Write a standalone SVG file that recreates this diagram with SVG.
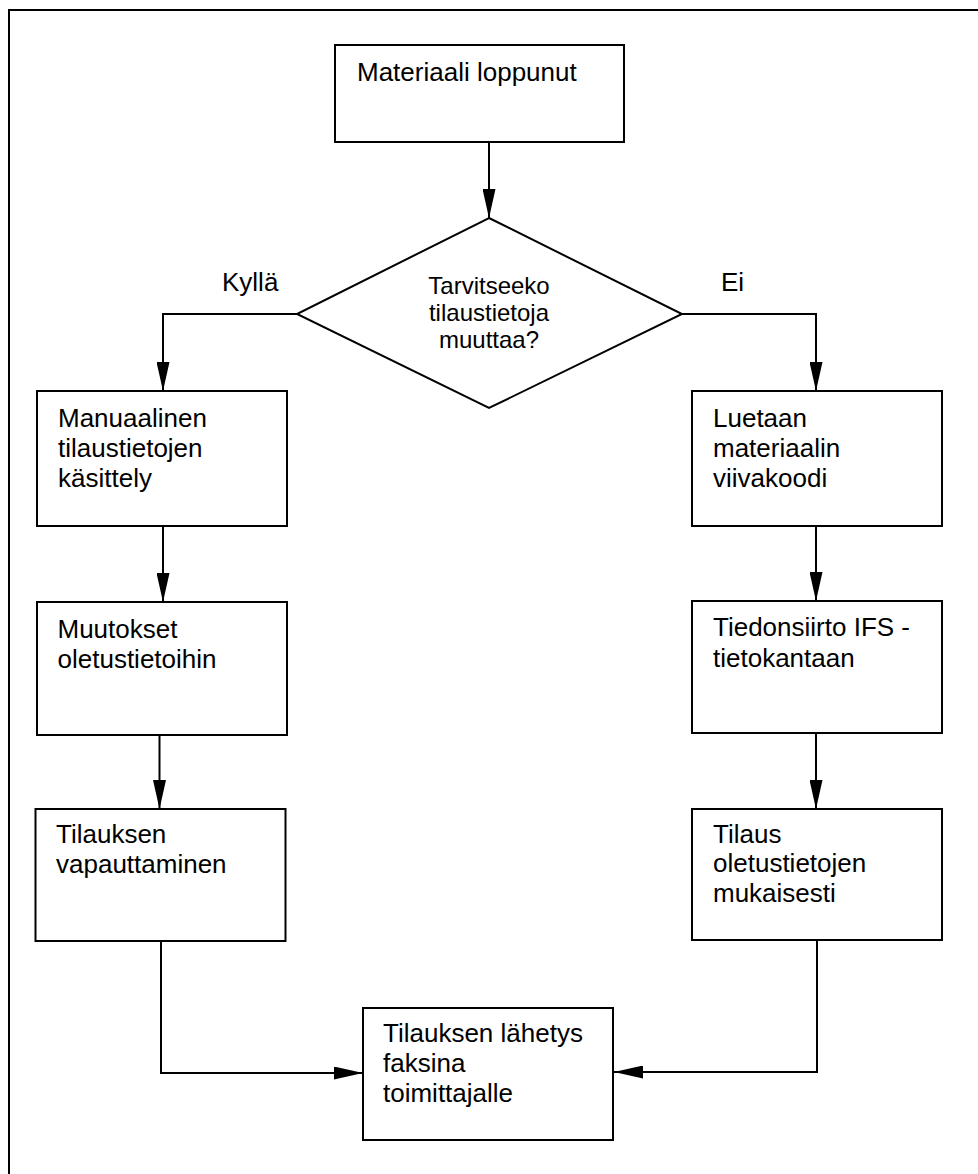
<svg xmlns="http://www.w3.org/2000/svg" width="978" height="1174" viewBox="0 0 978 1174">
  <style>
    .box { fill: #fff; stroke: #000; stroke-width: 2; }
    .frame { fill: none; stroke: #000; stroke-width: 2; }
    .edge { fill: none; stroke: #000; stroke-width: 2; marker-end: url(#arrow); }
    .lbl { font-family: "Liberation Sans", Arial, sans-serif; font-size: 26px; fill: #000; }
    .dlbl { font-family: "Liberation Sans", Arial, sans-serif; font-size: 24px; fill: #000; text-anchor: middle; }
  </style>
  <defs>
    <marker id="arrow" viewBox="0 0 29 13" refX="29" refY="6.5" markerWidth="29" markerHeight="13" markerUnits="userSpaceOnUse" orient="auto">
      <path d="M0,0 L29,6.5 L0,13 z" fill="#000"/>
    </marker>
  </defs>

  <rect width="978" height="1174" fill="#fff"/>
  <!-- page frame, open to the right and bottom -->
  <rect class="frame" x="9" y="10" width="1000" height="1200"/>

  <!-- connectors -->
  <g id="connectors">
    <path class="edge" d="M489,142 V218"/>
    <path class="edge" d="M297,314 H163 V391"/>
    <path class="edge" d="M682,314 H816 V391"/>
    <path class="edge" d="M163,526 V602"/>
    <path class="edge" d="M159.5,735 V809"/>
    <path class="edge" d="M161,941 V1073 H363"/>
    <path class="edge" d="M816,526 V601"/>
    <path class="edge" d="M816,733 V809"/>
    <path class="edge" d="M817,940 V1072 H614"/>
    <text class="lbl" x="222" y="291">Kyllä</text>
    <text class="lbl" x="721" y="291">Ei</text>
  </g>

  <g id="start">
    <rect class="box" x="335" y="45" width="289" height="97"/>
    <text class="lbl" x="357" y="81">Materiaali loppunut</text>
  </g>

  <g id="decision">
    <polygon class="box" points="489,218 682,314 489,408 297,314"/>
    <text class="dlbl" x="489" y="294">Tarvitseeko</text>
    <text class="dlbl" x="489" y="321">tilaustietoja</text>
    <text class="dlbl" x="489" y="348">muuttaa?</text>
  </g>

  <g id="manual">
    <rect class="box" x="37" y="391" width="250" height="135"/>
    <text class="lbl" x="58" y="427">Manuaalinen</text>
    <text class="lbl" x="58" y="457">tilaustietojen</text>
    <text class="lbl" x="58" y="487">käsittely</text>
  </g>

  <g id="changes">
    <rect class="box" x="37" y="602" width="250" height="133"/>
    <text class="lbl" x="57.5" y="638">Muutokset</text>
    <text class="lbl" x="57.5" y="668">oletustietoihin</text>
  </g>

  <g id="release">
    <rect class="box" x="35.5" y="809" width="250" height="132"/>
    <text class="lbl" x="56" y="843">Tilauksen</text>
    <text class="lbl" x="56" y="873">vapauttaminen</text>
  </g>

  <g id="barcode">
    <rect class="box" x="692" y="391" width="250" height="135"/>
    <text class="lbl" x="713" y="427">Luetaan</text>
    <text class="lbl" x="713" y="457">materiaalin</text>
    <text class="lbl" x="713" y="487">viivakoodi</text>
  </g>

  <g id="transfer">
    <rect class="box" x="692" y="601" width="250" height="132"/>
    <text class="lbl" x="713" y="636">Tiedonsiirto IFS -</text>
    <text class="lbl" x="713" y="667">tietokantaan</text>
  </g>

  <g id="default-order">
    <rect class="box" x="692" y="809" width="250" height="131"/>
    <text class="lbl" x="713" y="843">Tilaus</text>
    <text class="lbl" x="713" y="872">oletustietojen</text>
    <text class="lbl" x="713" y="902">mukaisesti</text>
  </g>

  <g id="send">
    <rect class="box" x="363" y="1008" width="250" height="132"/>
    <text class="lbl" x="383" y="1042">Tilauksen lähetys</text>
    <text class="lbl" x="383" y="1072">faksina</text>
    <text class="lbl" x="383" y="1102">toimittajalle</text>
  </g>
</svg>
